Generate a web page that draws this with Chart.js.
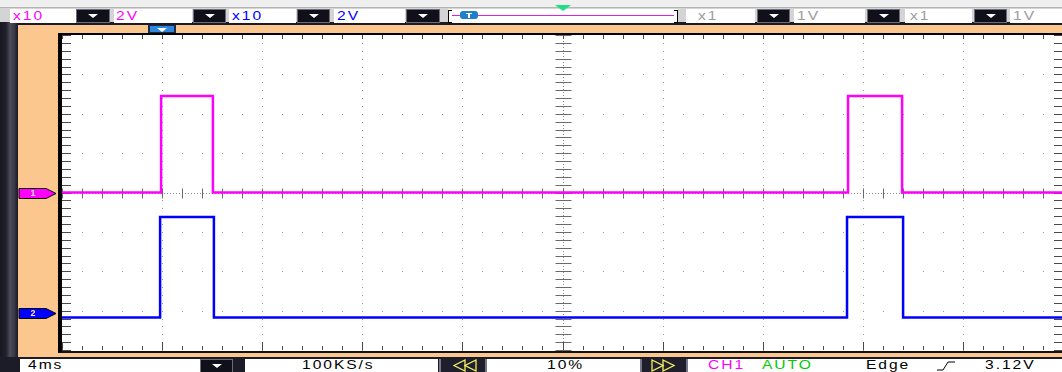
<!DOCTYPE html>
<html>
<head>
<meta charset="utf-8">
<title>Scope capture – CH1 / CH2</title>
<script src="https://cdn.jsdelivr.net/npm/chart.js@4.4.1/dist/chart.umd.min.js"></script>
<style>
  html, body { margin: 0; padding: 0; width: 1062px; height: 372px; overflow: hidden; background: #e2e2e2; }
  #scope { position: relative; width: 1062px; height: 372px; overflow: hidden;
           font-family: "Liberation Sans", Arial, sans-serif; font-size: 12px; }
  .abs { position: absolute; }
  #topStrip { left: 0; top: 0; width: 1062px; height: 7px; background: #efefef; border-bottom: 1px solid #b4b4b4; }
  #topBar { left: 0; top: 8px; width: 1062px; height: 14px; background: #d4d4d4; }
  #darkLine { left: 0; top: 22px; width: 1062px; height: 3px; background: #1b1b28; }
  #leftStrip { left: 0; top: 22px; width: 18px; height: 350px;
               background: linear-gradient(to right, #171723 0, #20202c 6px, #4c4c5a 10px, #3a3a48 14px, #1a1a26 18px); }
  #orange { left: 18px; top: 25px; width: 1044px; height: 332px; background: #fbc78e; }
  #plotFrame { left: 58px; top: 33px; width: 1010px; height: 316px; background: #fff;
               border-left: 4px solid #000; border-top: 2px solid #000; border-bottom: 2px solid #111; }
  #bottomBar { left: 0; top: 357px; width: 1062px; height: 15px; background: #1c1c28; }
  .field { position: absolute; background: #fff; height: 14px; line-height: 14px; white-space: nowrap; overflow: hidden; }
  .field span { position: absolute; top: 0; display: inline-block; transform: scaleX(1.3);
                transform-origin: 0 50%; letter-spacing: 1.5px; }
  .btn { position: absolute; height: 12px; background: #10101a; border: 1px solid #6c6c7a; }
  .btn::after { content: ""; position: absolute; left: 50%; top: 4px; margin-left: -5px;
                border-left: 5px solid transparent; border-right: 5px solid transparent; border-top: 4px solid #fff; }
  .navBtn { position: absolute; height: 13px; background: #1e1e2c; border-left: 2px solid #777786; border-right: 2px solid #777786; }
  .c1 { color: #ff00ff; }
  .c2 { color: #0000ff; }
  .off { color: #9c9c9c; }
  .blk { color: #000; }
  .grn { color: #00cc00; }
  #chartBox { position: absolute; left: 0; top: 0; width: 1064px; height: 372px; }
</style>
</head>
<body>
<div id="scope">
  <div class="abs" id="topStrip"></div>
  <div class="abs" id="topBar"></div>
  <div class="abs" id="darkLine"></div>
  <div class="abs" id="leftStrip"></div>
  <div class="abs" id="orange"></div>
  <div class="abs" id="plotFrame"></div>
  <div class="abs" id="bottomBar"></div>

  <!-- channel controls -->
  <div class="field" style="left:10px;top:9px;width:66px;"><span class="c1" style="left:3px">x10</span></div>
  <div class="btn" style="left:76px;top:9px;width:32px;"></div>
  <div class="field" style="left:114px;top:9px;width:78px;"><span class="c1" style="left:2px">2V</span></div>
  <div class="btn" style="left:193px;top:9px;width:31px;"></div>
  <div class="field" style="left:229px;top:9px;width:67px;"><span class="c2" style="left:3px">x10</span></div>
  <div class="btn" style="left:297px;top:9px;width:31px;"></div>
  <div class="field" style="left:334px;top:9px;width:71px;"><span class="c2" style="left:3px">2V</span></div>
  <div class="btn" style="left:406px;top:9px;width:32px;"></div>

  <!-- trigger position slider -->
  <div class="field" style="left:448px;top:9px;width:230px;"></div>
  <div class="abs" style="left:448px;top:10px;width:3px;height:11px;border:1px solid #000;border-right:none;"></div>
  <div class="abs" style="left:674px;top:10px;width:3px;height:11px;border:1px solid #000;border-left:none;"></div>
  <div class="abs" style="left:452px;top:15px;width:222px;height:1px;background:#e020e0;"></div>
  <div class="abs" style="left:460px;top:11px;width:18px;height:8px;background:#1f7fc8;border-radius:3px;"></div>
  <div class="abs" style="left:466px;top:13px;width:6px;height:1px;background:#fff;"></div>
  <div class="abs" style="left:468px;top:13px;width:2px;height:5px;background:#fff;"></div>
  <div class="abs" style="left:555px;top:5px;width:0;height:0;border-left:8px solid transparent;border-right:8px solid transparent;border-top:6px solid #22dd88;"></div>

  <!-- inactive channels -->
  <div class="field" style="left:686px;top:9px;width:69px;"><span class="off" style="left:12px">x1</span></div>
  <div class="btn" style="left:757px;top:9px;width:31px;"></div>
  <div class="field" style="left:794px;top:9px;width:71px;"><span class="off" style="left:3px">1V</span></div>
  <div class="btn" style="left:867px;top:9px;width:31px;"></div>
  <div class="field" style="left:905px;top:9px;width:67px;"><span class="off" style="left:5px">x1</span></div>
  <div class="btn" style="left:974px;top:9px;width:31px;"></div>
  <div class="field" style="left:1010px;top:9px;width:52px;"><span class="off" style="left:3px">1V</span></div>

  <!-- timebase / trigger status bar -->
  <div class="field" style="left:20px;top:359px;width:180px;height:13px;line-height:13px;"><span class="blk" style="left:8px">4ms</span></div>
  <div class="btn" style="left:200px;top:359px;width:31px;"></div>
  <div class="field" style="left:245px;top:359px;width:193px;height:13px;line-height:13px;"><span class="blk" style="left:57px">100KS/s</span></div>
  <div class="navBtn" style="left:439px;top:359px;width:44px;">
    <svg width="44" height="13" style="position:absolute;left:0;top:0">
      <polygon points="13,6.5 24,1 24,12" fill="none" stroke="#f4f060" stroke-width="1.3"/>
      <polygon points="24,6.5 35,1 35,12" fill="none" stroke="#f4f060" stroke-width="1.3"/>
    </svg>
  </div>
  <div class="field" style="left:487px;top:359px;width:153px;height:13px;line-height:13px;"><span class="blk" style="left:60px">10%</span></div>
  <div class="navBtn" style="left:640px;top:359px;width:44px;">
    <svg width="44" height="13" style="position:absolute;left:0;top:0">
      <polygon points="10,1 21,6.5 10,12" fill="none" stroke="#f4f060" stroke-width="1.3"/>
      <polygon points="21,1 32,6.5 21,12" fill="none" stroke="#f4f060" stroke-width="1.3"/>
    </svg>
  </div>
  <div class="field" style="left:688px;top:359px;width:374px;height:13px;line-height:13px;">
    <span class="c1" style="left:20px">CH1</span>
    <span class="grn" style="left:74px">AUTO</span>
    <span class="blk" style="left:178px">Edge</span>
    <svg width="20" height="13" style="position:absolute;left:248px;top:0">
      <polyline points="1,11 7,11 12,3 19,3" fill="none" stroke="#000" stroke-width="1"/>
    </svg>
    <span class="blk" style="left:297px">3.12V</span>
  </div>

  <div id="chartBox"><canvas id="scopeChart" width="1064" height="372"></canvas></div>
</div>

<script>
// Timebase and vertical settings of the capture
const MS_PER_DIV = 4;          // 4 ms/div
const X_MIN_MS = -4;           // trigger sits at 10 % of the record
const DIVS_X = 10;
const DIVS_Y = 8;
const CH1_V_PER_DIV = 2;
const CH2_V_PER_DIV = 2;
const CH1_OFFSET_DIV = 0;      // ground marker of CH1
const CH2_OFFSET_DIV = -3.05;  // ground marker of CH2

// CH1 (magenta): edge times in ms and the level (V) held from each edge
const ch1EdgeMs = [-4, -0.04, 2.03, 27.41, 29.57, 36];
const ch1LevelV = [0, 4.9, 0, 4.9, 0, 0];

// CH2 (blue): edge times in ms and the level (V) held from each edge
const ch2EdgeMs = [-4, -0.08, 2.07, 27.37, 29.61, 36];
const ch2LevelV = [-0.25, 4.86, -0.25, 4.86, -0.25, -0.25];

const toDiv = (v, vPerDiv, off) => v / vPerDiv + off;

const ch1Points = ch1EdgeMs.map((t, i) => ({ x: t, y: toDiv(ch1LevelV[i], CH1_V_PER_DIV, CH1_OFFSET_DIV) }));
const ch2Points = ch2EdgeMs.map((t, i) => ({ x: t, y: toDiv(ch2LevelV[i], CH2_V_PER_DIV, CH2_OFFSET_DIV) }));

// Graticule: dotted division lines, dashed centre axes and border ticks
const graticule = {
  id: 'graticule',
  beforeDatasetsDraw(chart) {
    const { ctx, chartArea: a, scales: { x, y } } = chart;
    const px = t => Math.round(x.getPixelForValue(t));
    const py = d => Math.round(y.getPixelForValue(d));
    ctx.save();

    // dotted division lines
    ctx.fillStyle = '#9a9a9a';
    for (let i = 1; i < DIVS_X; i++) {
      const t = X_MIN_MS + i * MS_PER_DIV;
      if (i === DIVS_X / 2) continue;
      for (let j = 0; j <= DIVS_Y * 5; j++) ctx.fillRect(px(t), py(-DIVS_Y / 2 + j / 5), 1, 1);
    }
    for (let j = 1; j < DIVS_Y; j++) {
      const d = -DIVS_Y / 2 + j;
      if (d === 0) continue;
      for (let i = 0; i <= DIVS_X * 5; i++) ctx.fillRect(px(X_MIN_MS + i * MS_PER_DIV / 5), py(d), 1, 1);
    }

    // dashed centre axes
    const cx = px(X_MIN_MS + DIVS_X / 2 * MS_PER_DIV) + 0.5;
    const cy = py(0) + 0.5;
    ctx.strokeStyle = '#8a8a8a';
    ctx.lineWidth = 1;
    ctx.setLineDash([1, 2]);
    ctx.beginPath();
    ctx.moveTo(a.left, cy); ctx.lineTo(a.right, cy);
    ctx.moveTo(cx, a.top); ctx.lineTo(cx, a.bottom);
    ctx.stroke();
    ctx.setLineDash([]);

    // ticks on the centre axes
    ctx.strokeStyle = '#6a6a6a';
    ctx.beginPath();
    for (let i = 0; i <= DIVS_X * 5; i++) {
      const tx = px(X_MIN_MS + i * MS_PER_DIV / 5) + 0.5;
      ctx.moveTo(tx, cy - 5); ctx.lineTo(tx, cy + 5);
    }
    for (let j = 0; j <= DIVS_Y * 5; j++) {
      const ty = py(-DIVS_Y / 2 + j / 5) + 0.5;
      ctx.moveTo(cx - 8, ty); ctx.lineTo(cx + 8, ty);
    }
    ctx.stroke();

    // border ticks
    ctx.strokeStyle = '#4a4a4a';
    ctx.beginPath();
    for (let j = 0; j <= DIVS_Y * 5; j++) {
      const ty = py(-DIVS_Y / 2 + j / 5) + 0.5;
      ctx.moveTo(a.left, ty); ctx.lineTo(a.left + 9, ty);
      ctx.moveTo(a.right - 9, ty); ctx.lineTo(a.right, ty);
    }
    for (let i = 0; i <= DIVS_X * 5; i++) {
      const tx = px(X_MIN_MS + i * MS_PER_DIV / 5) + 0.5;
      const major = i % 5 === 0;
      ctx.moveTo(tx, a.top); ctx.lineTo(tx, a.top + 4);
      ctx.moveTo(tx, a.bottom); ctx.lineTo(tx, a.bottom - (major ? 8 : 4));
    }
    ctx.stroke();
    ctx.restore();
  },
  afterDraw(chart) {
    const { ctx, scales: { x, y } } = chart;
    ctx.save();
    // channel ground markers on the left rail
    const marker = (d, fill, label) => {
      const yy = Math.round(y.getPixelForValue(d)) + 0.5;
      ctx.beginPath();
      ctx.moveTo(19, yy - 5); ctx.lineTo(46, yy - 5); ctx.lineTo(56, yy);
      ctx.lineTo(46, yy + 5); ctx.lineTo(19, yy + 5); ctx.closePath();
      ctx.fillStyle = fill; ctx.fill();
      ctx.strokeStyle = '#000'; ctx.lineWidth = 1; ctx.stroke();
      ctx.fillStyle = '#ffd8ff';
      ctx.font = 'bold 9px "Liberation Sans", Arial, sans-serif';
      ctx.textAlign = 'center'; ctx.textBaseline = 'middle';
      ctx.fillText(label, 33, yy + 0.5);
    };
    marker(CH1_OFFSET_DIV, '#ff00ff', '1');
    marker(CH2_OFFSET_DIV, '#0000ff', '2');

    // trigger position marker above the graticule
    const tx = Math.round(x.getPixelForValue(0));
    ctx.fillStyle = '#1a2a48';
    ctx.fillRect(tx - 14, 25, 28, 8);
    ctx.fillStyle = '#2f86dc';
    ctx.fillRect(tx - 12, 26, 24, 6);
    ctx.fillStyle = '#ffffff';
    ctx.beginPath();
    ctx.moveTo(tx - 5, 28); ctx.lineTo(tx + 5, 28); ctx.lineTo(tx, 32); ctx.closePath();
    ctx.fill();
    ctx.restore();
  }
};

new Chart(document.getElementById('scopeChart'), {
  type: 'line',
  data: {
    datasets: [
      { label: 'CH1', data: ch1Points, borderColor: '#ff00ff', borderWidth: 2.5, stepped: 'before' },
      { label: 'CH2', data: ch2Points, borderColor: '#0000ff', borderWidth: 2.5, stepped: 'before' }
    ]
  },
  options: {
    responsive: false,
    animation: false,
    devicePixelRatio: 1,
    layout: { padding: { left: 62, top: 35, right: 1, bottom: 22 } },
    elements: { point: { radius: 0 }, line: { tension: 0 } },
    scales: {
      x: { type: 'linear', min: X_MIN_MS, max: X_MIN_MS + DIVS_X * MS_PER_DIV, display: false },
      y: { type: 'linear', min: -DIVS_Y / 2, max: DIVS_Y / 2, display: false }
    },
    plugins: { legend: { display: false }, tooltip: { enabled: false } }
  },
  plugins: [graticule]
});
</script>
</body>
</html>
